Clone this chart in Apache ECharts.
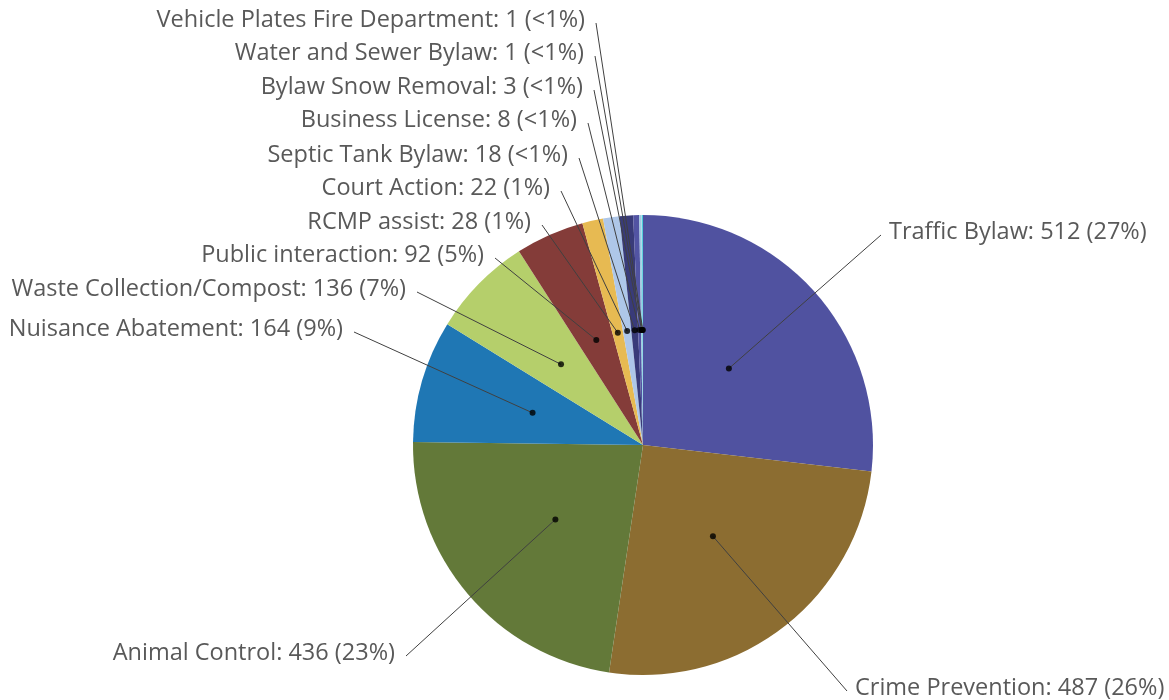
<!DOCTYPE html>
<html>
<head>
<meta charset="utf-8">
<script src="https://cdn.jsdelivr.net/npm/echarts@6/dist/echarts.min.js"></script>
<style>
  html, body { margin: 0; padding: 0; background: #fff; }
  #main { width: 1169px; height: 700px; }
</style>
</head>
<body>
<div id="main"></div>
<script>
// data
var categories = ['Traffic Bylaw', 'Crime Prevention', 'Animal Control', 'Nuisance Abatement',
    'Waste Collection/Compost', 'Public interaction', 'RCMP assist', 'Court Action',
    'Septic Tank Bylaw', 'Business License', 'Bylaw Snow Removal', 'Water and Sewer Bylaw',
    'Vehicle Plates Fire Department'];
var values = [512, 487, 436, 164, 136, 92, 28, 22, 18, 8, 3, 1, 1];
var colors = ['#5052a0', '#8c6d31', '#637939', '#1f77b4', '#b5cf6b', '#843c39', '#e7ba52',
    '#aec7e8', '#393b79', '#5254a3', '#9ecae1', '#9edae5', '#17becf'];

// label placement (text anchor x, y, align) - layout only
var labelPos = [
    [889, 232, 'left'], [855, 688, 'left'], [395, 653, 'right'], [343, 329, 'right'],
    [406, 289, 'right'], [484, 255, 'right'], [531, 222, 'right'], [550, 188, 'right'],
    [568, 155, 'right'], [577, 120, 'right'], [583, 87, 'right'], [584, 53, 'right'],
    [585, 20, 'right']
];

var cx = 643, cy = 445, R = 230;
var total = values.reduce(function (a, b) { return a + b; }, 0);

// mid angle of each slice (in value units), for the dots
var mids = [];
var cum = 0;
values.forEach(function (v) { mids.push(cum + v / 2); cum += v; });

function pctText(v) {
    var p = v / total * 100;
    return p < 1 ? '<1%' : Math.round(p) + '%';
}

var pieData = categories.map(function (c, i) {
    return { name: c, value: values[i], itemStyle: { color: colors[i] } };
});

var myChart = echarts.init(document.getElementById('main'));
var option = {
    animation: false,
    polar: { center: [cx, cy], radius: R },
    angleAxis: { type: 'value', min: 0, max: total, startAngle: 90, clockwise: true, show: false },
    radiusAxis: { type: 'value', min: 0, max: 1, show: false },
    series: [
        {
            // slices
            type: 'pie',
            center: [cx, cy],
            radius: R,
            startAngle: 90,
            clockwise: true,
            silent: true,
            data: pieData,
            label: { show: false },
            labelLine: { show: false }
        },
        {
            // transparent copy on top, carries the labels and leader lines
            type: 'pie',
            z: 4,
            center: [cx, cy],
            radius: R,
            startAngle: 90,
            clockwise: true,
            silent: true,
            avoidLabelOverlap: false,
            data: pieData.map(function (d) {
                return { name: d.name, value: d.value, itemStyle: { color: 'rgba(0,0,0,0)' } };
            }),
            label: {
                show: true,
                position: 'outside',
                fontFamily: 'Open Sans',
                fontSize: 23.5,
                color: '#595959',
                formatter: function (p) {
                    return p.name + ': ' + p.value + ' (' + pctText(p.value) + ')';
                }
            },
            labelLine: { show: true, lineStyle: { color: '#404040', width: 1 } },
            labelLayout: function (p) {
                var i = p.dataIndex;
                var pos = labelPos[i];
                var a = mids[i] / total * Math.PI * 2;
                var dot = [cx + R / 2 * Math.sin(a), cy - R / 2 * Math.cos(a)];
                var gap = pos[2] === 'right' ? 11 : -8;
                var end = [pos[0] + gap, pos[1] + 3];
                return {
                    x: pos[0],
                    y: pos[1],
                    align: pos[2],
                    verticalAlign: 'middle',
                    labelLinePoints: [dot, end, end]
                };
            }
        },
        {
            type: 'scatter',
            coordinateSystem: 'polar',
            symbolSize: 6,
            itemStyle: { color: '#000' },
            z: 6,
            silent: true,
            data: mids.map(function (m) { return [0.5, m]; })
        }
    ]
};
myChart.setOption(option);
</script>
</body>
</html>
